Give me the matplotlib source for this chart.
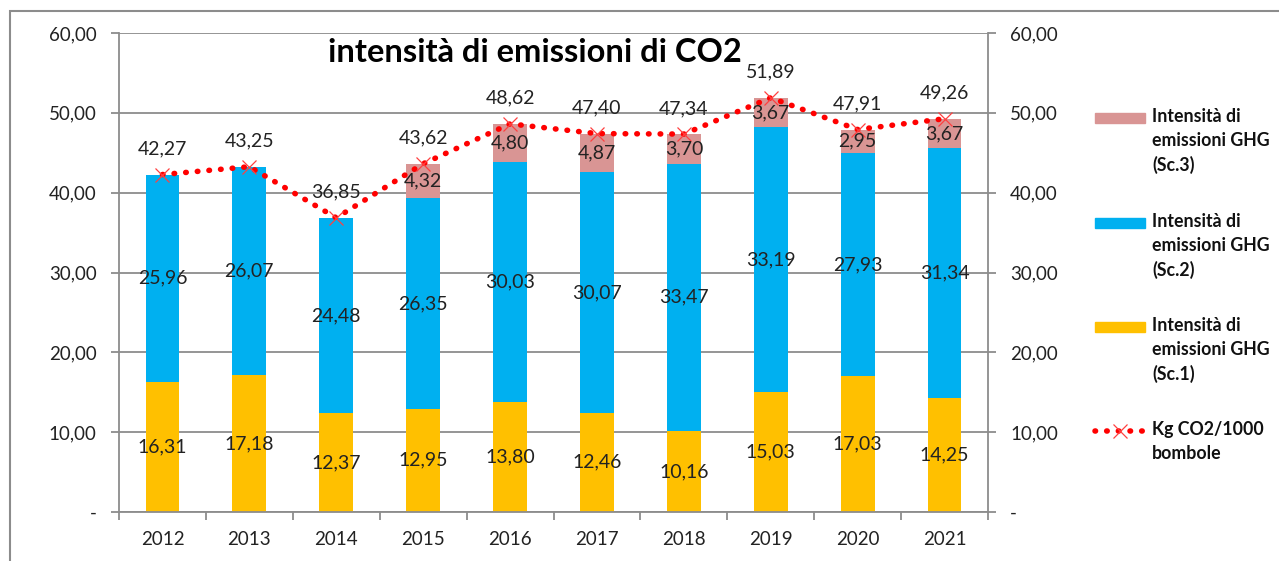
import matplotlib
matplotlib.use("Agg")
import matplotlib.pyplot as plt
from matplotlib.patches import Rectangle
from matplotlib.lines import Line2D
import numpy as np

plt.rcParams['font.family'] = ['Lato', 'DejaVu Sans']

# data
years = ["2012", "2013", "2014", "2015", "2016", "2017", "2018", "2019", "2020", "2021"]
sc1 = [16.31, 17.18, 12.37, 12.95, 13.80, 12.46, 10.16, 15.03, 17.03, 14.25]
sc2 = [25.96, 26.07, 24.48, 26.35, 30.03, 30.07, 33.47, 33.19, 27.93, 31.34]
sc3 = [0, 0, 0, 4.32, 4.80, 4.87, 3.70, 3.67, 2.95, 3.67]
totale = [42.27, 43.25, 36.85, 43.62, 48.62, 47.40, 47.34, 51.89, 47.91, 49.26]
yticks = [0, 10, 20, 30, 40, 50, 60]
ytick_labels = ["-", "10,00", "20,00", "30,00", "40,00", "50,00", "60,00"]

c1, c2, c3 = "#FFC000", "#00B0F0", "#D99594"
grey = "#8C8C8C"

def fmt(v):
    return f"{v:.2f}".replace(".", ",")

fig = plt.figure(figsize=(12.79, 5.61), dpi=100)
fig.patches.append(Rectangle((10 / 1279, -0.05), 1.1, 1 - 11 / 561 + 0.05,
                             transform=fig.transFigure, fill=False,
                             edgecolor=grey, linewidth=1.5))

ax = fig.add_axes([119 / 1279, 1 - 512 / 561, (988 - 119) / 1279, (512 - 33) / 561])
x = np.arange(len(years))
w = 0.39

b1 = ax.bar(x, sc1, w, color=c1, zorder=2)
b2 = ax.bar(x, sc2, w, bottom=sc1, color=c2, zorder=2)
bot3 = [a + b for a, b in zip(sc1, sc2)]
b3 = ax.bar(x, sc3, w, bottom=bot3, color=c3, zorder=2)

ax.plot(x, totale, color="red", linestyle=(0, (0.1, 2.0)), linewidth=4,
        dash_capstyle="round", zorder=4)
ax.plot(x, totale, linestyle="none", marker="x", markersize=10,
        markeredgewidth=0.9, color="#FF4040", zorder=5)

lab_kw = dict(ha="center", va="center", fontsize=14, color="#222222", zorder=6)
for i in range(len(years)):
    ax.text(x[i], sc1[i] / 2, fmt(sc1[i]), **lab_kw)
    ax.text(x[i], sc1[i] + sc2[i] / 2, fmt(sc2[i]), **lab_kw)
    if sc3[i] > 0:
        ax.text(x[i], bot3[i] + sc3[i] / 2, fmt(sc3[i]), **lab_kw)
    ax.text(x[i], totale[i] + 3.2, fmt(totale[i]), **lab_kw)

ax.set_xlim(-0.5, len(years) - 0.5)
ax.set_ylim(0, 60)
ax.set_yticks(yticks)
ax.set_yticklabels(ytick_labels, fontsize=13.5)
ax.yaxis.grid(True, color=grey, linewidth=1.3, zorder=0)
ax.set_axisbelow(True)
ax.set_xticks(x)
ax.set_xticklabels(years, fontsize=13.5, color="#222222")
ax.set_xticks(np.arange(-0.5, len(years)), minor=True)
ax.tick_params(axis="x", which="major", length=0, pad=14)
ax.tick_params(axis="x", which="minor", length=6, color=grey, width=1.3)
ax.tick_params(axis="y", length=6, color=grey, width=1.3, pad=10, labelcolor="#222222")
for s in ax.spines.values():
    s.set_color(grey)
    s.set_linewidth(1.3)
ax.spines["top"].set_visible(False)

ax2 = ax.twinx()
ax2.set_ylim(0, 60)
ax2.set_yticks(yticks)
ax2.set_yticklabels(ytick_labels, fontsize=13.5, color="#222222")
ax2.tick_params(axis="y", length=6, color=grey, width=1.3, pad=10)
for s in ax2.spines.values():
    s.set_visible(False)

ax.text((535 - 119) / 869, (512 - 53) / 479, "intensità di emissioni di CO2", transform=ax.transAxes,
        ha="center", va="center", fontsize=23.5, fontweight="bold", color="black", zorder=7)

# legend
entries = [
    ("bar", c3, "Intensità di\nemissioni GHG\n(Sc.3)", 118),
    ("bar", c2, "Intensità di\nemissioni GHG\n(Sc.2)", 223),
    ("bar", c1, "Intensità di\nemissioni GHG\n(Sc.1)", 327),
    ("line", "red", "Kg CO2/1000\nbombole", 431),
]
for kind, col, lab, ypx in entries:
    yf = 1 - ypx / 561
    if kind == "bar":
        fig.patches.append(Rectangle((1095 / 1279, yf - 5 / 561), 50 / 1279, 10 / 561,
                                     transform=fig.transFigure, color=col))
    else:
        fig.lines.append(Line2D([1095 / 1279, 1145 / 1279], [yf, yf], transform=fig.transFigure,
                                color="red", linestyle=(0, (0.1, 2.0)), linewidth=4,
                                dash_capstyle="round"))
        fig.lines.append(Line2D([1120 / 1279], [yf], transform=fig.transFigure, marker="x",
                                markersize=10, markeredgewidth=0.9, color="#FF4040"))
    fig.text(1152 / 1279, yf + 10 / 561, lab, ha="left", va="top", fontsize=12.8,
             fontweight="bold", linespacing=1.48, color="#111111")

fig.savefig("out.png", dpi=100)
